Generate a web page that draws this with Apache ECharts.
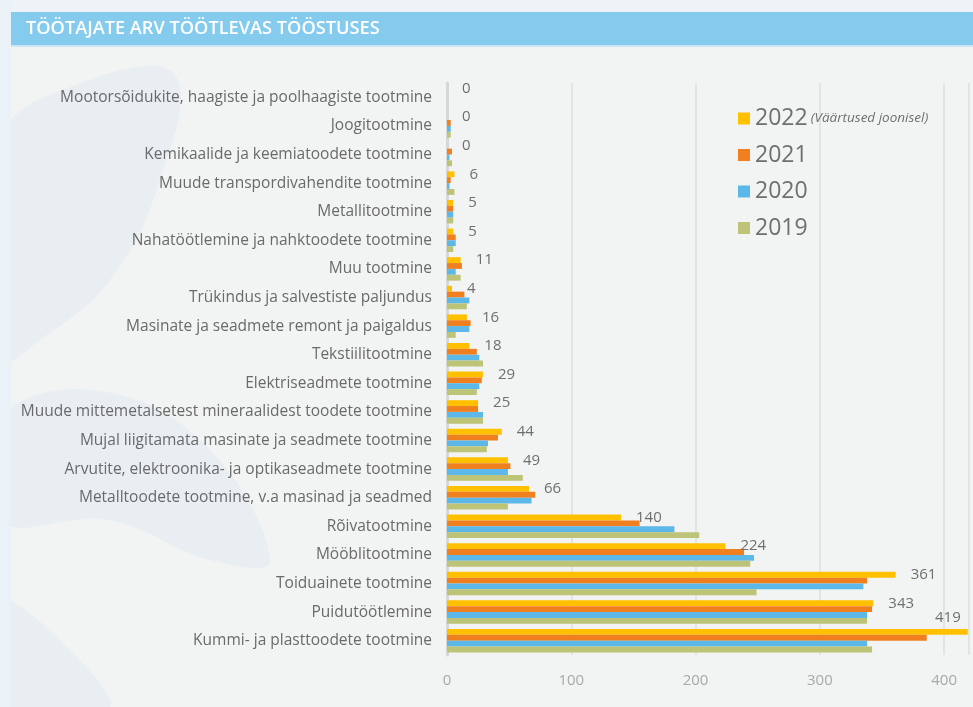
<!DOCTYPE html>
<html>
<head>
<meta charset="utf-8">
<script src="https://cdn.jsdelivr.net/npm/echarts@6/dist/echarts.min.js"></script>
<style>
html, body { margin: 0; padding: 0; background: #eef3f7; }
#main { width: 973px; height: 707px; }
</style>
</head>
<body>
<div id="main"></div>
<script>
var categories = [
    'Mootorsõidukite, haagiste ja poolhaagiste tootmine',
    'Joogitootmine',
    'Kemikaalide ja keemiatoodete tootmine',
    'Muude transpordivahendite tootmine',
    'Metallitootmine',
    'Nahatöötlemine ja nahktoodete tootmine',
    'Muu tootmine',
    'Trükindus ja salvestiste paljundus',
    'Masinate ja seadmete remont ja paigaldus',
    'Tekstiilitootmine',
    'Elektriseadmete tootmine',
    'Muude mittemetalsetest mineraalidest toodete tootmine',
    'Mujal liigitamata masinate ja seadmete tootmine',
    'Arvutite, elektroonika- ja optikaseadmete tootmine',
    'Metalltoodete tootmine, v.a masinad ja seadmed',
    'Rõivatootmine',
    'Mööblitootmine',
    'Toiduainete tootmine',
    'Puidutöötlemine',
    'Kummi- ja plasttoodete tootmine'
];

var data2022 = [0, 0, 0, 6, 5, 5, 11, 4, 16, 18, 29, 25, 44, 49, 66, 140, 224, 361, 343, 419];
var data2021 = [0, 3, 4, 3, 5, 7, 12, 14, 19, 24, 28, 25, 41, 51, 71, 155, 239, 338, 342, 386];
var data2020 = [0, 3, 2, 2, 5, 7, 7, 18, 18, 26, 26, 29, 33, 49, 68, 183, 247, 335, 338, 338];
var data2019 = [0, 3, 4, 6, 5, 5, 11, 16, 7, 29, 24, 29, 32, 61, 49, 203, 244, 249, 338, 342];

var xTicks = [0, 100, 200, 300, 400];

var myChart = echarts.init(document.getElementById('main'));

function makeSeries(name, data, color, withLabel)
{
    var s = {
        name: name,
        type: 'bar',
        data: data,
        barGap: '0%',
        barCategoryGap: '18%',
        itemStyle: { color: color },
        animation: false
    };
    if (withLabel) {
        // the longest bar runs to the edge, so its value sits above the bar end
        s.data = data.map(function (v, i) {
            if (i === data.length - 1) {
                return {
                    value: v,
                    label: { position: ['100%', 0], align: 'right', verticalAlign: 'bottom', distance: 0, offset: [-7, -4] }
                };
            }
            return v;
        });
        s.label = {
            show: true,
            position: 'right',
            distance: 15,
            offset: [0, 0],
            color: '#6f6f6f',
            fontSize: 15,
            fontFamily: 'Open Sans'
        };
    }
    return s;
}

var option = {
    backgroundColor: 'transparent',
    textStyle: { fontFamily: 'Open Sans' },
    graphic: [
        { type: 'rect', shape: { x: 11, y: 12, width: 962, height: 695 }, style: { fill: '#f2f3f3' }, z: -10 },
        {
            type: 'polygon', z: -9,
            shape: { points: [[0, 140], [90, 80], [175, 75], [160, 180], [110, 280], [40, 340], [0, 360]], smooth: 0.4 },
            style: { fill: '#e9eef2' }
        },
        {
            type: 'polygon', z: -9,
            shape: { points: [[0, 420], [90, 390], [200, 440], [270, 560], [210, 560], [110, 520], [0, 520]], smooth: 0.4 },
            style: { fill: '#e9eef2' }
        },
        {
            type: 'polygon', z: -9,
            shape: { points: [[0, 600], [60, 640], [110, 707], [0, 707]], smooth: 0.3 },
            style: { fill: '#e9eef2' }
        },
        { type: 'rect', shape: { x: 0, y: 0, width: 11, height: 707 }, style: { fill: '#eaf1f7' }, z: -8 },
        { type: 'rect', shape: { x: 11, y: 12, width: 962, height: 33 }, style: { fill: '#85cbee' }, z: 5 },
        { type: 'rect', shape: { x: 11, y: 45, width: 962, height: 2 }, style: { fill: '#c8e6f4' }, z: 5 },
        {
            type: 'text', x: 26, y: 29, z: 6,
            style: {
                text: 'TÖÖTAJATE ARV TÖÖTLEVAS TÖÖSTUSES',
                fill: '#ffffff', fontSize: 18.2, fontWeight: 600,
                fontFamily: 'Open Sans', textVerticalAlign: 'middle'
            }
        }
    ],
    legend: {
        data: ['2022', '2021', '2020', '2019'],
        orient: 'vertical',
        left: 733,
        top: 102,
        icon: 'rect',
        itemWidth: 12,
        itemHeight: 12,
        itemGap: 13.5,
        formatter: function (name) {
            if (name === '2022') return '{y|2022} {n|(Väärtused joonisel)}';
            return '{y|' + name + '}';
        },
        textStyle: {
            rich: {
                y: { fontSize: 23, color: '#6f6f6f', fontFamily: 'Open Sans', height: 28 },
                n: { fontSize: 13.5, color: '#6f6f6f', fontStyle: 'italic', fontFamily: 'Open Sans' }
            }
        }
    },
    grid: {
        left: 447,
        right: 4,
        top: 83,
        bottom: 52
    },
    xAxis: {
        type: 'value',
        min: 0,
        max: 420,
        interval: 100,
        axisLine: { show: false },
        axisTick: { show: false },
        axisLabel: {
            color: '#a8a8a8', fontSize: 15, margin: 18, showMaxLabel: false,
            formatter: function (v) { return xTicks.indexOf(v) >= 0 ? String(v) : ''; }
        },
        splitLine: { lineStyle: { color: '#e2e4e4', width: 2 } }
    },
    yAxis: {
        type: 'category',
        inverse: true,
        data: categories,
        axisLine: { lineStyle: { color: '#d6d8d8', width: 3 } },
        axisTick: { show: false },
        axisLabel: { color: '#6a6a6a', fontSize: 15.5, margin: 15 }
    },
    series: [
        makeSeries('2022', data2022, '#ffc000', true),
        makeSeries('2021', data2021, '#f0801f', false),
        makeSeries('2020', data2020, '#5cb8e8', false),
        makeSeries('2019', data2019, '#bdc377', false)
    ]
};

myChart.setOption(option);
</script>
</body>
</html>
